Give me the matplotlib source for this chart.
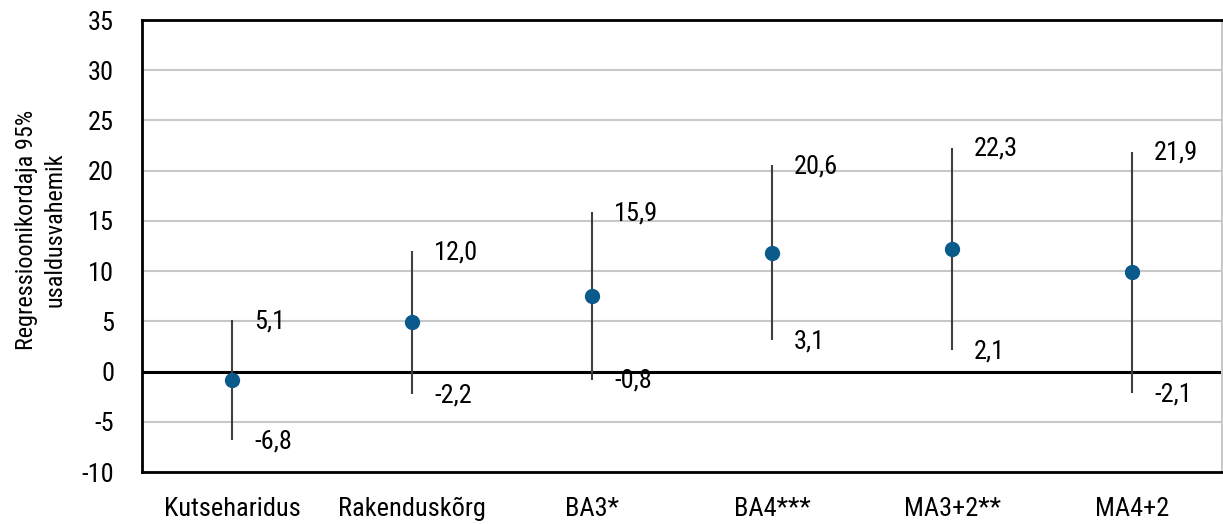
import matplotlib
matplotlib.use("Agg")
import matplotlib.pyplot as plt
from matplotlib import font_manager

# data
categories = ["Kutseharidus", "Rakenduskõrg", "BA3*", "BA4***", "MA3+2**", "MA4+2"]
upper = [5.1, 12.0, 15.9, 20.6, 22.3, 21.9]
lower = [-6.8, -2.2, -0.8, 3.1, 2.1, -2.1]
estimate = [-0.85, 4.9, 7.55, 11.85, 12.2, 9.9]
yticks = [-10, -5, 0, 5, 10, 15, 20, 25, 30, 35]

names = {f.name for f in font_manager.fontManager.ttflist}
fam = [f for f in ["Roboto Condensed", "Liberation Sans Narrow", "Roboto", "DejaVu Sans"] if f in names]
plt.rcParams["font.family"] = fam
plt.rcParams["axes.unicode_minus"] = False

INK = "#000000"
BAR = "#404040"
DOT = "#0b5a8c"
GRID = "#c8c8c8"
FS = 19

fig = plt.figure(figsize=(12.23, 5.24), dpi=100)
ax = fig.add_axes([142 / 1223, 52 / 524, 1080 / 1223, 452 / 524])

x = list(range(len(categories)))
ax.vlines(x, lower, upper, color=BAR, linewidth=1.5, zorder=3)
ax.plot(x, estimate, "o", color=DOT, markersize=10, zorder=4)

for xi, lo, hi in zip(x, lower, upper):
    ax.annotate(f"{hi:.1f}".replace(".", ","), xy=(xi, hi), xytext=(16, -1),
                textcoords="offset points", ha="left", va="center",
                fontsize=FS, color=INK)
    ax.annotate(f"{lo:.1f}".replace(".", ","), xy=(xi, lo), xytext=(16, -1),
                textcoords="offset points", ha="left", va="center",
                fontsize=FS, color=INK)

ax.set_xlim(-0.5, len(categories) - 0.5)
ax.set_ylim(-10, 35)
ax.set_yticks(yticks)
ax.set_xticks(x)
ax.set_xticklabels(categories)
ax.tick_params(axis="both", length=0, labelsize=FS, colors=INK)
ax.tick_params(axis="x", pad=18)
ax.tick_params(axis="y", pad=20)
ax.grid(axis="y", color=GRID, linewidth=1.5, zorder=0)
ax.axhline(0, color=INK, linewidth=2.2, zorder=2)
for side in ("left", "top", "bottom"):
    ax.spines[side].set_color(INK)
    ax.spines[side].set_linewidth(2)
ax.spines["right"].set_color(GRID)
ax.spines["right"].set_linewidth(1.5)

ax.set_ylabel("Regressioonikordaja 95%\nusaldusvahemik", fontsize=17.5,
              color=INK, linespacing=1.3)
ax.yaxis.set_label_coords(-0.07, 0.535)

fig.savefig("out.png", dpi=100, facecolor="white")
